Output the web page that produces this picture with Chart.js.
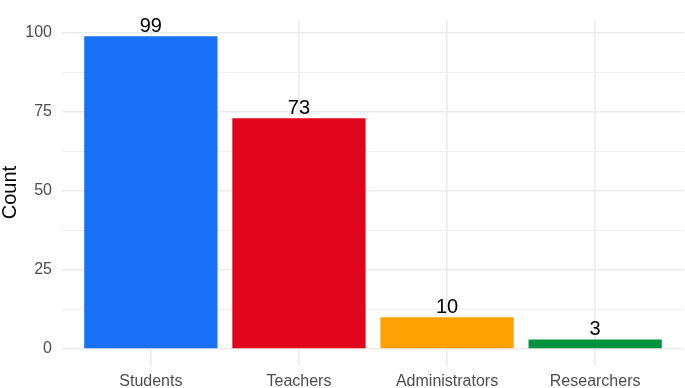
<!DOCTYPE html>
<html>
<head>
<meta charset="utf-8">
<script src="https://cdn.jsdelivr.net/npm/chart.js@4/dist/chart.umd.min.js"></script>
<style>
html,body{margin:0;padding:0;background:#fff;}
canvas{display:block;}
</style>
</head>
<body>
<canvas id="c" width="685" height="388"></canvas>
<script>
const categories = ["Students", "Teachers", "Administrators", "Researchers"];
const counts = [99, 73, 10, 3];
const barColors = ["#1770F5", "#E2061C", "#FFA103", "#03923E"];
const yTicks = [0, 25, 50, 75, 100];
const yMinorTicks = [12.5, 37.5, 62.5, 87.5];

const FONT = "'Liberation Sans', Arial, Helvetica, sans-serif";

const labelPlugin = {
  id: 'barLabels',
  afterDatasetsDraw(chart) {
    const ctx = chart.ctx;
    const xs = chart.scales.x, ys = chart.scales.y;
    ctx.save();
    ctx.font = "20px " + FONT;
    ctx.fillStyle = "#000";
    ctx.textAlign = "center";
    ctx.textBaseline = "alphabetic";
    counts.forEach((v, i) => {
      ctx.fillText(String(v), xs.getPixelForValue(i), ys.getPixelForValue(v) - 4.5);
    });
    ctx.restore();
  }
};

new Chart(document.getElementById('c'), {
  type: 'bar',
  data: {
    datasets: [{
      data: counts.map((v, i) => ({x: i, y: v})),
      backgroundColor: barColors,
      borderWidth: 0,
      barPercentage: 0.9,
      categoryPercentage: 1.0
    }]
  },
  options: {
    responsive: false,
    animation: false,
    layout: {padding: {top: 20.5, right: 1, left: 0, bottom: 0}},
    plugins: {legend: {display: false}, tooltip: {enabled: false}},
    scales: {
      x: {
        type: 'linear',
        min: -0.6,
        max: 3.6,
        offset: false,
        afterBuildTicks(axis) { axis.ticks = categories.map((c, i) => ({value: i})); },
        afterFit(axis) { axis.height = 23.4; },
        border: {display: false},
        grid: {color: '#EBEBEB', lineWidth: 1.6, drawTicks: false, offset: false},
        ticks: {
          autoSkip: false,
          maxRotation: 0,
          padding: 7,
          color: '#4D4D4D',
          font: {family: FONT, size: 16},
          callback: (v) => categories[v] ?? ''
        }
      },
      y: {
        type: 'linear',
        min: -4.95,
        max: 103.95,
        afterBuildTicks(axis) {
          axis.ticks = yTicks.concat(yMinorTicks).sort((a, b) => a - b).map(v => ({value: v}));
        },
        afterFit(axis) { axis.width = 62; },
        border: {display: false},
        grid: {
          drawTicks: false,
          color: (c) => yTicks.includes(c.tick.value) ? '#EBEBEB' : '#F0F0F0',
          lineWidth: (c) => yTicks.includes(c.tick.value) ? 1.6 : 1.1
        },
        ticks: {
          padding: 10,
          color: '#4D4D4D',
          font: {family: FONT, size: 16},
          callback: (v) => yTicks.includes(v) ? String(v) : ''
        },
        title: {
          display: true,
          text: 'Count',
          color: '#000',
          padding: {top: 0, bottom: 0},
          font: {family: FONT, size: 20, lineHeight: 1}
        }
      }
    }
  },
  plugins: [labelPlugin]
});
</script>
</body>
</html>
